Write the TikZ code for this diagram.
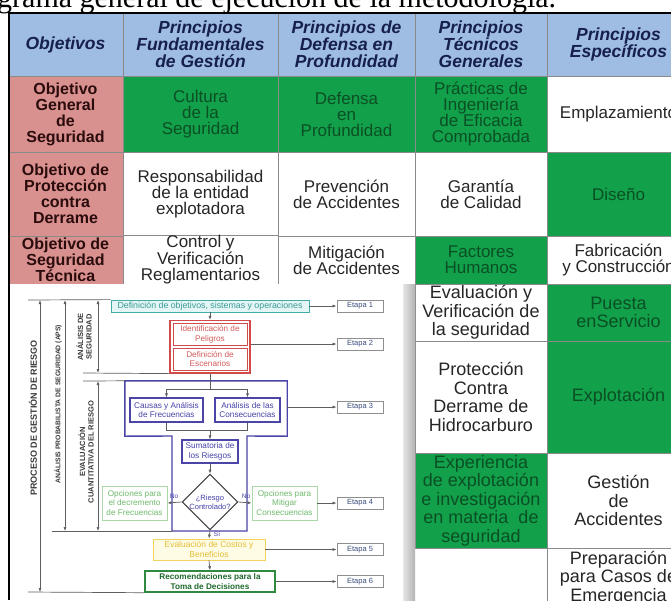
\documentclass[tikz,border=0pt]{standalone}
\usepackage{fontspec}
\setmainfont{Liberation Sans}
\newfontfamily\capfont{Liberation Serif}
\usetikzlibrary{fit,shapes.geometric,arrows.meta}

\definecolor{headblue}{HTML}{9FBDE3}
\definecolor{headtxt}{HTML}{16204A}
\definecolor{objpink}{HTML}{D9918F}
\definecolor{objtxt}{HTML}{2B0C0C}
\definecolor{cellgreen}{HTML}{12A04A}
\definecolor{greentxt}{HTML}{0B4F24}
\definecolor{gridgray}{HTML}{8A8A8A}
\definecolor{linegray}{HTML}{5E5E5E}
\definecolor{labgray}{HTML}{3A3A3A}
\definecolor{teall}{HTML}{45ABA6}
\definecolor{tealf}{HTML}{E3F5F4}
\definecolor{tealt}{HTML}{3A9C98}
\definecolor{redl}{HTML}{D24B4B}
\definecolor{redt}{HTML}{D45A5A}
\definecolor{bluel}{HTML}{4A45A6}
\definecolor{bluet}{HTML}{4643A8}
\definecolor{optl}{HTML}{A9D8A6}
\definecolor{optt}{HTML}{6FBA6C}
\definecolor{yell}{HTML}{F1D35A}
\definecolor{yelf}{HTML}{FFFCE6}
\definecolor{yelt}{HTML}{E2BE35}
\definecolor{recl}{HTML}{2F8A40}
\definecolor{rect}{HTML}{1E6A2C}
\definecolor{etapagray}{HTML}{8E8E8E}
\definecolor{etapatxt}{HTML}{3A4C7C}

\begin{document}
\begin{tikzpicture}[x=1pt,y=-1pt,every node/.style={inner sep=0pt,align=center},
	cell/.style={rectangle,draw=gridgray,fill=white,text=black!85,font=\fontsize{17}{16}\selectfont},
	head/.style={cell,fill=headblue,text=headtxt,font=\fontsize{17.5}{17}\selectfont\bfseries\itshape},
	obj/.style={cell,fill=objpink,text=objtxt,font=\fontsize{16}{16}\selectfont\bfseries},
	verde/.style={fill=cellgreen,text=greentxt},
	low/.style={cell,font=\fontsize{18}{18.5}\selectfont},
	flow/.style={rectangle,draw,line width=0.8pt,font=\fontsize{8.2}{9.5}\selectfont},
	tealbox/.style={flow,draw=teall,fill=tealf,text=tealt,font=\fontsize{8.8}{9.5}\selectfont},
	redcell/.style={flow,draw=redl,text=redt,line width=1pt,minimum width=74,minimum height=22},
	bluecell/.style={flow,draw=bluel,text=bluet,line width=1.1pt,minimum height=24},
	optbox/.style={flow,draw=optl,text=optt,minimum width=65,minimum height=34},
	etapa/.style={flow,draw=etapagray,text=etapatxt,fill=white,minimum width=46,minimum height=12,font=\fontsize{7.5}{8}\selectfont},
	vlab/.style={rotate=90,text=labgray,font=\fontsize{7.5}{8.5}\selectfont\bfseries},
	small/.style={text=bluet,font=\fontsize{6.5}{7}\selectfont},
	arr/.style={draw=linegray,line width=0.7pt,-{Latex[length=4pt,width=3pt]}},
	dimline/.style={draw=linegray,line width=0.7pt,{Latex[length=4pt,width=3pt]}-{Latex[length=4pt,width=3pt]}},
	tick/.style={draw=linegray,line width=0.7pt}]

	\useasboundingbox (0,0) rectangle (671,600);
	\clip (0,0) rectangle (671,600);
	\fill[white] (0,0) rectangle (671,600);

	\node[anchor=base west,font=\capfont\fontsize{30}{30}\selectfont] (caption) at (-3,7) {grama general de ejecución de la metodología.};

	\node[head,minimum width=115,minimum height=63] (hobj) at (65.5,44.5) {Objetivos};
	\node[head,minimum width=155,minimum height=63] (hfun) at (200.5,44.5) {Principios\\Fundamentales\\de Gestión};
	\node[head,minimum width=137,minimum height=63] (hdef) at (346.5,44.5) {Principios de\\Defensa en\\Profundidad};
	\node[head,minimum width=132,minimum height=63] (htec) at (481,44.5) {Principios\\Técnicos\\Generales};
	\node[head,minimum width=143,minimum height=63] (hesp) at (618.5,44.5) {Principios\\Específicos};

	\node[obj,minimum width=115,minimum height=76] (obj1) at (65.5,114) {Objetivo\\General\\de\\Seguridad};
	\node[cell,verde,minimum width=155,minimum height=76] (fun1) at (200.5,114) {Cultura\\de la\\Seguridad};
	\node[cell,verde,minimum width=137,minimum height=76] (def1) at (346.5,114) {Defensa\\en\\Profundidad};
	\node[cell,verde,minimum width=132,minimum height=76] (tec1) at (481,114) {Prácticas de\\Ingeniería\\de Eficacia\\Comprobada};
	\node[cell,minimum width=143,minimum height=76] (esp1) at (618.5,114) {Emplazamiento};

	\node[obj,minimum width=115,minimum height=84] (obj2) at (65.5,194) {Objetivo de\\Protección\\contra\\Derrame};
	\node[cell,minimum width=155,minimum height=84] (fun2) at (200.5,194) {Responsabilidad\\de la entidad\\explotadora};
	\node[cell,minimum width=137,minimum height=84] (def2) at (346.5,194) {Prevención\\de Accidentes};
	\node[cell,minimum width=132,minimum height=84] (tec2) at (481,194) {Garantía\\de Calidad};
	\node[cell,verde,minimum width=143,minimum height=84] (esp2) at (618.5,194) {Diseño};

	\node[obj,minimum width=115,minimum height=48] (obj3) at (65.5,260) {Objetivo de\\Seguridad\\Técnica};
	\node[cell,minimum width=155,minimum height=48] (fun3) at (200.5,260) {Control y\\Verificación\\Reglamentarios};
	\node[cell,minimum width=137,minimum height=48] (def3) at (346.5,260) {Mitigación\\de Accidentes};
	\node[cell,verde,minimum width=132,minimum height=48] (tec3) at (481,260) {Factores\\Humanos};
	\node[cell,minimum width=143,minimum height=48] (esp3) at (618.5,260) {Fabricación\\y Construcción};

	\node[low,minimum width=132,minimum height=57] (tec4) at (481,312.5) {Evaluación y\\Verificación de\\la seguridad};
	\node[low,verde,minimum width=143,minimum height=57] (esp4) at (618.5,312.5) {Puesta\\enServicio};
	\node[low,minimum width=132,minimum height=112] (tec5) at (481,397) {Protección\\Contra\\Derrame de\\Hidrocarburo};
	\node[low,verde,minimum width=143,minimum height=112] (esp5) at (618.5,397) {Explotación};
	\node[low,verde,minimum width=132,minimum height=95] (tec6) at (481,500.5) {Experiencia\\de explotación\\e investigación\\en materia~~de\\seguridad};
	\node[low,minimum width=143,minimum height=95] (esp6) at (618.5,500.5) {Gestión\\de\\Accidentes};
	\node[low,minimum width=143,minimum height=92] (esp7) at (618.5,594) {};
	\node[anchor=north,font=\fontsize{18}{18.5}\selectfont,text=black!85] (prep) at (618.5,551) {Preparación\\para Casos de\\Emergencia};

	\fill[white] (8,284) rectangle (403,600);
	\shade[left color=gray!20,right color=gray!60] (403,284) rectangle (415,600);

	\node[tealbox,minimum width=198,minimum height=12] (defobj) at (210,306) {Definición de objetivos, sistemas y operaciones};
	\node[redcell] (pelig) at (210,334.5) {Identificación de\\Peligros};
	\node[redcell] (escen) at (210,359) {Definición de\\Escenarios};
	\node[draw=redl,line width=1.2pt,fit=(pelig) (escen),inner sep=2.5pt] (redbox) {};
	\node[minimum width=162,minimum height=55] (bluebox) at (206,408.5) {};
	\coordinate (bluesw) at (172,531);
	\draw[bluel,line width=1.4pt] (bluebox.north west) -- (bluebox.north east) -- (bluebox.south east) -- (247,436) -- (247,531) -- (bluesw) -- (172,436) -- (bluebox.south west) -- cycle;
	\node[bluecell,minimum width=73] (causas) at (166.5,410) {Causas y Análisis\\de Frecuencias};
	\node[bluecell,minimum width=65] (consec) at (247.5,410) {Análisis de las\\Consecuencias};
	\node[bluecell,minimum width=56,minimum height=23] (sumat) at (210,451.5) {Sumatoria de\\los Riesgos};
	\node[diamond,draw=black!75,line width=1.1pt,aspect=1,text=bluet,font=\fontsize{7.6}{8.6}\selectfont] (riesgo) at (210,502) {¿Riesgo\\Controlado?};
	\node[optbox] (opdec) at (134.5,503) {Opciones para\\el decremento\\de Frecuencias};
	\node[optbox] (opmit) at (284.5,503) {Opciones para\\Mitigar\\Consecuencias};
	\node[flow,draw=yell,fill=yelf,text=yelt,minimum width=112,minimum height=21,font=\fontsize{8.5}{9.5}\selectfont] (evcost) at (209,549.5) {Evaluación de Costos y\\Beneficios};
	\node[flow,draw=recl,text=rect,line width=1.4pt,minimum width=130,minimum height=21,font=\fontsize{8.2}{9.5}\selectfont\bfseries] (recom) at (210,581.5) {Recomendaciones para la\\Toma de Decisiones};

	\foreach \n/\y in {1/306,2/344,3/407,4/503,5/549.5,6/581.5}
		\node[etapa] (et\n) at (360,\y) {Etapa \n};

	\coordinate (split) at (210,389);
	\coordinate (merge) at (210,430);
	\draw[arr] (defobj.south) -- (redbox.north);
	\draw[tick] (redbox.south) -- (split);
	\draw[arr] (split) -| (causas.north);
	\draw[arr] (split) -| (consec.north);
	\draw[tick] (causas.south) |- (merge);
	\draw[tick] (consec.south) |- (merge);
	\draw[arr] (merge) -- (sumat.north);
	\draw[arr] (sumat.south) -- (riesgo.north);
	\draw[arr] (riesgo.west) -- (opdec.east);
	\draw[arr] (riesgo.east) -- (opmit.west);
	\draw[arr] (riesgo.south) -- (evcost.north);
	\draw[arr] (evcost.south) -- (recom.north);
	\node[small] (nol) at (174,496) {No};
	\node[small] (nor) at (246,496) {No};
	\node[small] (si) at (217,534) {Sí};

	\foreach \from/\to in {defobj/et1,redbox/et2,bluebox/et3,opmit/et4,evcost/et5,recom/et6}
		\draw[arr] (\from.east |- \to) -- (\to.west);

	\coordinate (p1t) at (40,300);
	\coordinate (p1b) at (40,592);
	\coordinate (p2t) at (65,300);
	\coordinate (p2b) at (65,531);
	\coordinate (p3t) at (98,300);
	\coordinate (p3b) at (98,373);
	\coordinate (p4t) at (98,381);
	\coordinate (p4b) at (98,531);
	\foreach \from/\to in {p1t/p1b,p2t/p2b,p3t/p3b,p4t/p4b}
		\draw[dimline] (\from) -- (\to);
	\draw[tick] (28,300) -- (defobj.north west);
	\draw[tick] (83,373) -- (redbox.south west);
	\draw[tick] (83,381) -- (bluebox.north west);
	\draw[tick] (52,531) -- (bluesw);
	\draw[tick] (28,592) -- (recom.south west);

	\node[vlab,font=\fontsize{9}{10}\selectfont\bfseries] (lproc) at (33,418) {PROCESO DE GESTIÓN DE RIESGO};
	\node[vlab,font=\fontsize{6.8}{8}\selectfont\bfseries] (laps) at (58,404) {ANÁLISIS PROBABILISTA DE SEGURIDAD (APS)};
	\node[vlab] (lseg) at (84,337) {ANÁLISIS DE\\SEGURIDAD};
	\node[vlab] (leval) at (86,452) {EVALUACIÓN\\CUANTITATIVA DEL RIESGO};

	\draw[black,line width=2pt] (9,600) -- (9,13) -- (671,13);
\end{tikzpicture}
\end{document}
